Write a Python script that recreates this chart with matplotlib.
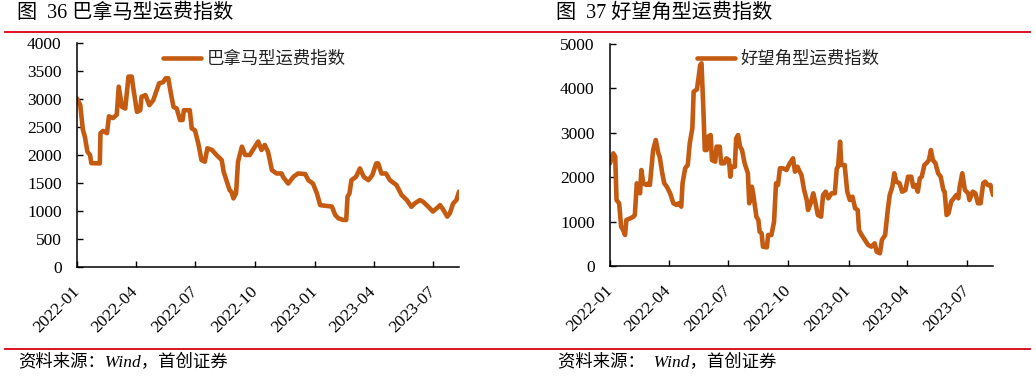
import matplotlib
matplotlib.use('Agg')
import matplotlib.pyplot as plt
import matplotlib.dates as mdates
from matplotlib.lines import Line2D
import pandas as pd

plt.rcParams['font.family'] = ['Liberation Serif', 'Noto Sans CJK SC', 'DejaVu Sans']

# ---------------- data ----------------
panamax_dates = [
    '2022-01-04', '2022-01-09', '2022-01-13', '2022-01-16', '2022-01-20', '2022-01-24', '2022-01-26',
    '2022-02-08', '2022-02-09', '2022-02-13', '2022-02-19', '2022-02-22', '2022-02-28', '2022-03-06',
    '2022-03-09', '2022-03-14', '2022-03-19', '2022-03-24', '2022-03-29', '2022-03-31', '2022-04-06',
    '2022-04-11', '2022-04-13', '2022-04-19', '2022-04-25', '2022-05-01', '2022-05-10', '2022-05-16',
    '2022-05-20', '2022-05-24', '2022-05-28', '2022-06-01', '2022-06-06', '2022-06-11', '2022-06-15',
    '2022-06-17', '2022-06-26', '2022-06-29', '2022-07-04', '2022-07-09', '2022-07-14', '2022-07-19',
    '2022-07-23', '2022-07-30', '2022-08-06', '2022-08-14', '2022-08-17', '2022-08-22', '2022-08-26',
    '2022-08-29', '2022-09-01', '2022-09-05', '2022-09-08', '2022-09-14', '2022-09-19', '2022-09-26',
    '2022-10-04', '2022-10-09', '2022-10-14', '2022-10-19', '2022-10-24', '2022-10-30', '2022-11-06',
    '2022-11-14', '2022-11-16', '2022-11-24', '2022-12-02', '2022-12-09', '2022-12-20', '2022-12-25',
    '2023-01-01', '2023-01-07', '2023-01-12', '2023-01-22', '2023-01-30', '2023-02-04', '2023-02-09',
    '2023-02-16', '2023-02-21', '2023-02-23', '2023-02-26', '2023-03-01', '2023-03-08', '2023-03-14',
    '2023-03-20', '2023-03-27', '2023-04-02', '2023-04-08', '2023-04-11', '2023-04-16', '2023-04-23',
    '2023-04-29', '2023-05-09', '2023-05-17', '2023-05-25', '2023-06-01', '2023-06-06', '2023-06-14',
    '2023-06-19', '2023-06-27', '2023-07-04', '2023-07-10', '2023-07-15', '2023-07-20', '2023-07-26',
    '2023-07-30', '2023-08-04', '2023-08-09', '2023-08-13']
panamax_values = [
    3010, 2890, 2450, 2330, 2060, 2000, 1855,
    1850, 2390, 2430, 2390, 2690, 2660, 2720,
    3220, 2860, 2830, 3400, 3400, 3220, 2770,
    2800, 3040, 3070, 2890, 2980, 3280, 3300,
    3370, 3370, 3100, 2860, 2830, 2625, 2625,
    2800, 2800, 2475, 2440, 2210, 1910, 1880,
    2120, 2090, 2000, 1910, 1700, 1520, 1375,
    1340, 1225, 1315, 1880, 2150, 2000, 2000,
    2150, 2240, 2090, 2180, 2060, 1730, 1670,
    1670, 1610, 1490, 1610, 1670, 1660, 1550,
    1490, 1315, 1105, 1090, 1080, 930, 870,
    840, 840, 1255, 1315, 1550, 1610, 1760,
    1610, 1550, 1640, 1850, 1850, 1670, 1670,
    1550, 1465, 1285, 1195, 1075, 1135, 1195,
    1165, 1075, 990, 1050, 1105, 1020, 900,
    960, 1135, 1195, 1345]

capesize_dates = [
    '2022-01-04', '2022-01-09', '2022-01-12', '2022-01-14', '2022-01-18', '2022-01-21', '2022-01-24',
    '2022-01-27', '2022-01-29', '2022-02-04', '2022-02-09', '2022-02-11', '2022-02-14', '2022-02-16',
    '2022-02-19', '2022-02-21', '2022-02-24', '2022-03-01', '2022-03-04', '2022-03-06', '2022-03-11',
    '2022-03-15', '2022-03-19', '2022-03-21', '2022-03-25', '2022-03-28', '2022-04-01', '2022-04-06',
    '2022-04-11', '2022-04-16', '2022-04-19', '2022-04-23', '2022-04-25', '2022-04-29', '2022-05-03',
    '2022-05-06', '2022-05-10', '2022-05-12', '2022-05-17', '2022-05-19', '2022-05-22', '2022-05-24',
    '2022-05-27', '2022-05-29', '2022-06-01', '2022-06-03', '2022-06-07', '2022-06-09', '2022-06-14',
    '2022-06-16', '2022-06-21', '2022-06-23', '2022-06-28', '2022-07-01', '2022-07-05', '2022-07-07',
    '2022-07-09', '2022-07-14', '2022-07-16', '2022-07-19', '2022-07-22', '2022-07-25', '2022-07-29',
    '2022-08-03', '2022-08-05', '2022-08-09', '2022-08-11', '2022-08-16', '2022-08-19', '2022-08-21',
    '2022-08-24', '2022-08-26', '2022-09-01', '2022-09-03', '2022-09-08', '2022-09-12', '2022-09-15',
    '2022-09-18', '2022-09-21', '2022-09-26', '2022-10-01', '2022-10-06', '2022-10-11', '2022-10-14',
    '2022-10-18', '2022-10-20', '2022-10-24', '2022-10-28', '2022-11-01', '2022-11-03', '2022-11-07',
    '2022-11-11', '2022-11-14', '2022-11-18', '2022-11-23', '2022-11-26', '2022-11-30', '2022-12-04',
    '2022-12-09', '2022-12-14', '2022-12-17', '2022-12-19', '2022-12-22', '2022-12-24', '2022-12-29',
    '2023-01-02', '2023-01-06', '2023-01-10', '2023-01-14', '2023-01-18', '2023-01-20', '2023-01-24',
    '2023-01-29', '2023-02-03', '2023-02-08', '2023-02-13', '2023-02-16', '2023-02-21', '2023-02-24',
    '2023-03-01', '2023-03-05', '2023-03-08', '2023-03-12', '2023-03-15', '2023-03-18', '2023-03-23',
    '2023-03-27', '2023-04-01', '2023-04-05', '2023-04-10', '2023-04-13', '2023-04-16', '2023-04-20',
    '2023-04-23', '2023-04-26', '2023-04-30', '2023-05-03', '2023-05-07', '2023-05-10', '2023-05-13',
    '2023-05-17', '2023-05-21', '2023-05-25', '2023-05-29', '2023-05-31', '2023-06-03', '2023-06-06',
    '2023-06-10', '2023-06-14', '2023-06-18', '2023-06-21', '2023-06-23', '2023-06-27', '2023-07-01',
    '2023-07-06', '2023-07-08', '2023-07-13', '2023-07-17', '2023-07-21', '2023-07-25', '2023-07-29',
    '2023-08-01', '2023-08-05', '2023-08-09', '2023-08-13']
capesize_values = [
    2313, 2538, 2461, 1486, 1412, 885, 811,
    698, 1036, 1074, 1110, 1148, 1862, 1786,
    1637, 2162, 1862, 1824, 1862, 1824, 2612,
    2838, 2538, 2461, 2088, 1862, 1786, 1637,
    1412, 1374, 1412, 1336, 1862, 2200, 2275,
    2763, 3101, 3925, 3979, 4189, 4526, 4565,
    3475, 2612, 2612, 2912, 2950, 2387, 2349,
    2687, 2687, 2313, 2313, 2425, 2387, 2011,
    2236, 2236, 2875, 2950, 2687, 2612, 2313,
    2088, 1412, 1786, 1637, 1110, 1036, 772,
    736, 435, 421, 698, 698, 998, 1862,
    1824, 2200, 2200, 2162, 2313, 2425, 2124,
    2236, 2162, 2049, 1711, 1486, 1261, 1412,
    1637, 1449, 1148, 1110, 1599, 1674, 1524,
    1637, 1637, 2200, 2236, 2800, 2275, 2275,
    1674, 1486, 1561, 1299, 1261, 811, 698,
    585, 473, 435, 510, 322, 286, 585,
    698, 1261, 1599, 1786, 2088, 1899, 1862,
    1674, 1711, 2011, 2011, 1786, 1824, 1674,
    1974, 2011, 2275, 2313, 2387, 2612, 2387,
    2313, 2088, 2011, 1711, 1674, 1148, 1186,
    1449, 1524, 1599, 1524, 1786, 2088, 1711,
    1637, 1486, 1674, 1637, 1412, 1412, 1862,
    1899, 1824, 1824, 1599]

tick_dates = ['2022-01-04', '2022-04-04', '2022-07-04', '2022-10-04',
              '2023-01-04', '2023-04-04', '2023-07-04']

titles = ['图  36 巴拿马型运费指数', '图  37 好望角型运费指数']
legend_labels = ['巴拿马型运费指数', '好望角型运费指数']
sources = ['资料来源：Wind，首创证券', '资料来源：  Wind，首创证券']

LINE_COLOR = '#C55A11'
RED = '#D9000F'

W, H = 1036, 377
fig = plt.figure(figsize=(W / 100, H / 100), dpi=100)

axL = fig.add_axes([77 / W, 1 - 267 / H, 382 / W, 224 / H])
axR = fig.add_axes([610 / W, 1 - 266 / H, 383 / W, 222 / H])


def draw(ax, dates, values, label, ymax, ystep, leg_xy):
    d = pd.to_datetime(dates)
    ax.plot(d, values, color=LINE_COLOR, lw=3.3, solid_joinstyle='round',
            solid_capstyle='round', label=label)
    for s in ['top', 'right']:
        ax.spines[s].set_visible(False)
    for s in ['left', 'bottom']:
        ax.spines[s].set_linewidth(1.1)
        ax.spines[s].set_color('black')
    ax.set_ylim(0, ymax)
    ax.set_yticks(list(range(0, ymax + 1, ystep)))
    ax.set_xlim(d[0], d[-1])
    ax.set_xticks(pd.to_datetime(tick_dates))
    ax.xaxis.set_major_formatter(mdates.DateFormatter('%Y-%m'))
    ax.tick_params(direction='in', length=4, width=1, labelsize=12.5, colors='black')
    ax.tick_params(axis='y', pad=11)
    ax.tick_params(axis='x', pad=16)
    plt.setp(ax.get_xticklabels(), rotation=45, ha='right', va='center',
             rotation_mode='anchor')
    leg = ax.legend(loc='center left', bbox_to_anchor=leg_xy, frameon=False,
                    fontsize=12.5, handlelength=2.2, handletextpad=0.3,
                    borderpad=0, borderaxespad=0)
    for t in leg.get_texts():
        t.set_color('#222222')


draw(axL, panamax_dates, panamax_values, legend_labels[0], 4000, 500, (0.225, 0.924))
draw(axR, capesize_dates, capesize_values, legend_labels[1], 5000, 1000, (0.227, 0.928))

# titles
fig.text(17 / W, 1 - 13 / H, titles[0], fontsize=14.5, ha='left', va='center')
fig.text(556 / W, 1 - 13 / H, titles[1], fontsize=14.5, ha='left', va='center')

# red rules
for y in (32, 349):
    fig.add_artist(Line2D([5 / W, 1030 / W], [1 - y / H, 1 - y / H],
                          transform=fig.transFigure, color=RED, lw=1.3))

# sources
fig.text(18 / W, 1 - 363 / H, sources[0], fontsize=12.5, ha='left', va='center', style='italic')
fig.text(558 / W, 1 - 363 / H, sources[1], fontsize=12.5, ha='left', va='center', style='italic')

fig.savefig('out.png', dpi=100)
